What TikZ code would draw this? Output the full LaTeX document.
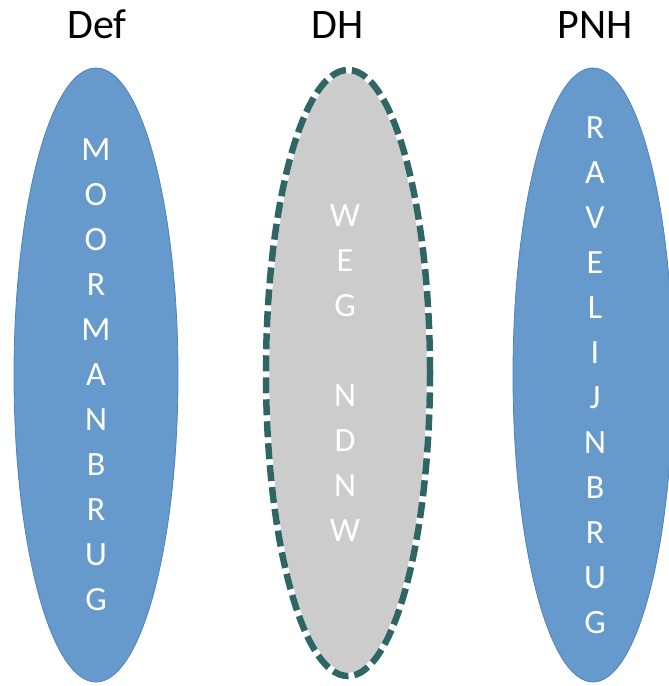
\documentclass[tikz,border=0pt]{standalone}
\usepackage{fontspec}
\setmainfont{Carlito}
\usetikzlibrary{shapes.geometric}
\definecolor{blueFill}{RGB}{102,153,204}
\definecolor{blueEdge}{RGB}{79,129,189}
\definecolor{grayFill}{RGB}{204,204,204}
\definecolor{tealDash}{RGB}{47,102,101}
\begin{document}
\begin{tikzpicture}[x=1pt,y=-1pt,
  blueoval/.style={ellipse,fill=blueFill,draw=blueEdge,line width=0.8pt,inner sep=0pt,minimum width=164pt,minimum height=614pt},
  grayoval/.style={ellipse,fill=grayFill,inner sep=0pt,minimum width=164pt,minimum height=606pt},
  letters/.style={text=white,align=center,font=\fontsize{34}{45}\selectfont},
  title/.style={anchor=base,font=\fontsize{42}{50}\selectfont}]
\useasboundingbox (0,0) rectangle (669,686);
\node[blueoval] (def) at (96,375) {};
\node[grayoval] (dh) at (348,373) {};
\draw[white,line width=6.5pt] (dh.center) ellipse [x radius=82pt,y radius=303pt];
\draw[tealDash,line width=6.5pt,dash pattern=on 16pt off 6pt] (dh.center) ellipse [x radius=82pt,y radius=303pt];
\node[blueoval,minimum width=160pt] (pnh) at (593,375) {};
\node[letters] (defl) at (def.center) {M\\O\\O\\R\\M\\A\\N\\B\\R\\U\\G};
\node[letters] (dhl) at ([xshift=-3pt]dh.center) {W\\E\\G\\\mbox{}\\N\\D\\N\\W};
\node[letters] (pnhl) at ([xshift=2pt]pnh.center) {R\\A\\V\\E\\L\\I\\J\\N\\B\\R\\U\\G};
\node[title] (tdef) at (97,38) {Def};
\node[title] (tdh) at (338,38) {DH};
\node[title] (tpnh) at (595,38) {PNH};
\end{tikzpicture}
\end{document}
